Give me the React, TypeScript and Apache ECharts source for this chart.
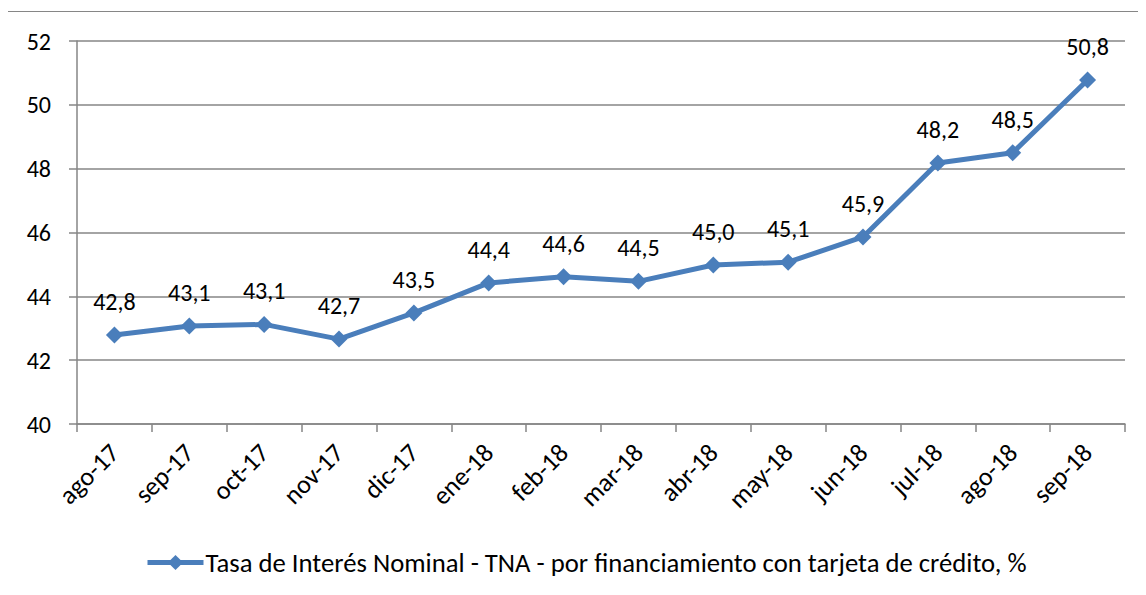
import React, { useEffect, useRef } from "react";
import * as echarts from "echarts";

const categories = ["ago-17", "sep-17", "oct-17", "nov-17", "dic-17", "ene-18", "feb-18", "mar-18", "abr-18", "may-18", "jun-18", "jul-18", "ago-18", "sep-18"];
const tnaValues = [42.79, 43.07, 43.12, 42.66, 43.48, 44.42, 44.61, 44.47, 44.98, 45.07, 45.86, 48.18, 48.5, 50.78];
const seriesName = "Tasa de Interés Nominal - TNA - por financiamiento con tarjeta de crédito, %";
const yMin = 40;
const yMax = 52;
const yStep = 2;

const FONT = "Carlito, Lato, sans-serif";
const GRAY = "#868686";
const BLUE = "#4A7EBB";

export default function App() {
  const ref = useRef<HTMLDivElement>(null);
  useEffect(() => {
    if (!ref.current) return;
    const chart = echarts.init(ref.current, null, { renderer: "svg" });
    chart.setOption({
      animation: false,
      backgroundColor: "#fff",
      graphic: [
        {
          type: "rect",
          shape: { x: -0.5, y: 3.5, width: 1200, height: 1200 },
          style: { fill: "none", stroke: GRAY, lineWidth: 1 },
          silent: true,
        },
      ],
      grid: { left: 69, top: 33, right: 21, bottom: 171, containLabel: false },
      legend: {
        left: 132,
        top: 536,
        itemWidth: 56,
        itemHeight: 19,
        itemGap: 0,
        lineStyle: { color: BLUE, width: 5 },
        textStyle: { fontFamily: FONT, fontSize: 26.7, color: "#000", padding: [0, 0, 0, -3] },
        data: [{ name: seriesName }],
      },
      xAxis: {
        type: "category",
        data: categories,
        boundaryGap: true,
        axisLine: { lineStyle: { color: GRAY, width: 1.5 } },
        axisTick: { show: true, length: 8, lineStyle: { color: GRAY, width: 1.5 } },
        axisLabel: { rotate: 45, margin: 24, fontFamily: FONT, fontSize: 26, color: "#000", interval: 0 },
      },
      yAxis: {
        type: "value",
        min: yMin,
        max: yMax,
        interval: yStep,
        axisLine: { show: true, lineStyle: { color: GRAY, width: 1.5 } },
        axisTick: { show: true, length: 8, lineStyle: { color: GRAY, width: 1.5 } },
        splitLine: { lineStyle: { color: GRAY, width: 1.5 } },
        axisLabel: { margin: 26, fontFamily: FONT, fontSize: 24, color: "#000" },
      },
      series: [
        {
          name: seriesName,
          type: "line",
          data: tnaValues,
          symbol: "diamond",
          symbolSize: 17,
          showAllSymbol: true,
          lineStyle: { color: BLUE, width: 5 },
          itemStyle: { color: BLUE },
          label: {
            show: true,
            position: "top",
            distance: 13,
            fontFamily: FONT,
            fontSize: 24,
            color: "#000",
            formatter: (p: any) => (p.value as number).toFixed(1).replace(".", ","),
          },
        },
      ],
    });
    return () => chart.dispose();
  }, []);
  return <div ref={ref} style={{ width: 1138, height: 587 }} />;
}
